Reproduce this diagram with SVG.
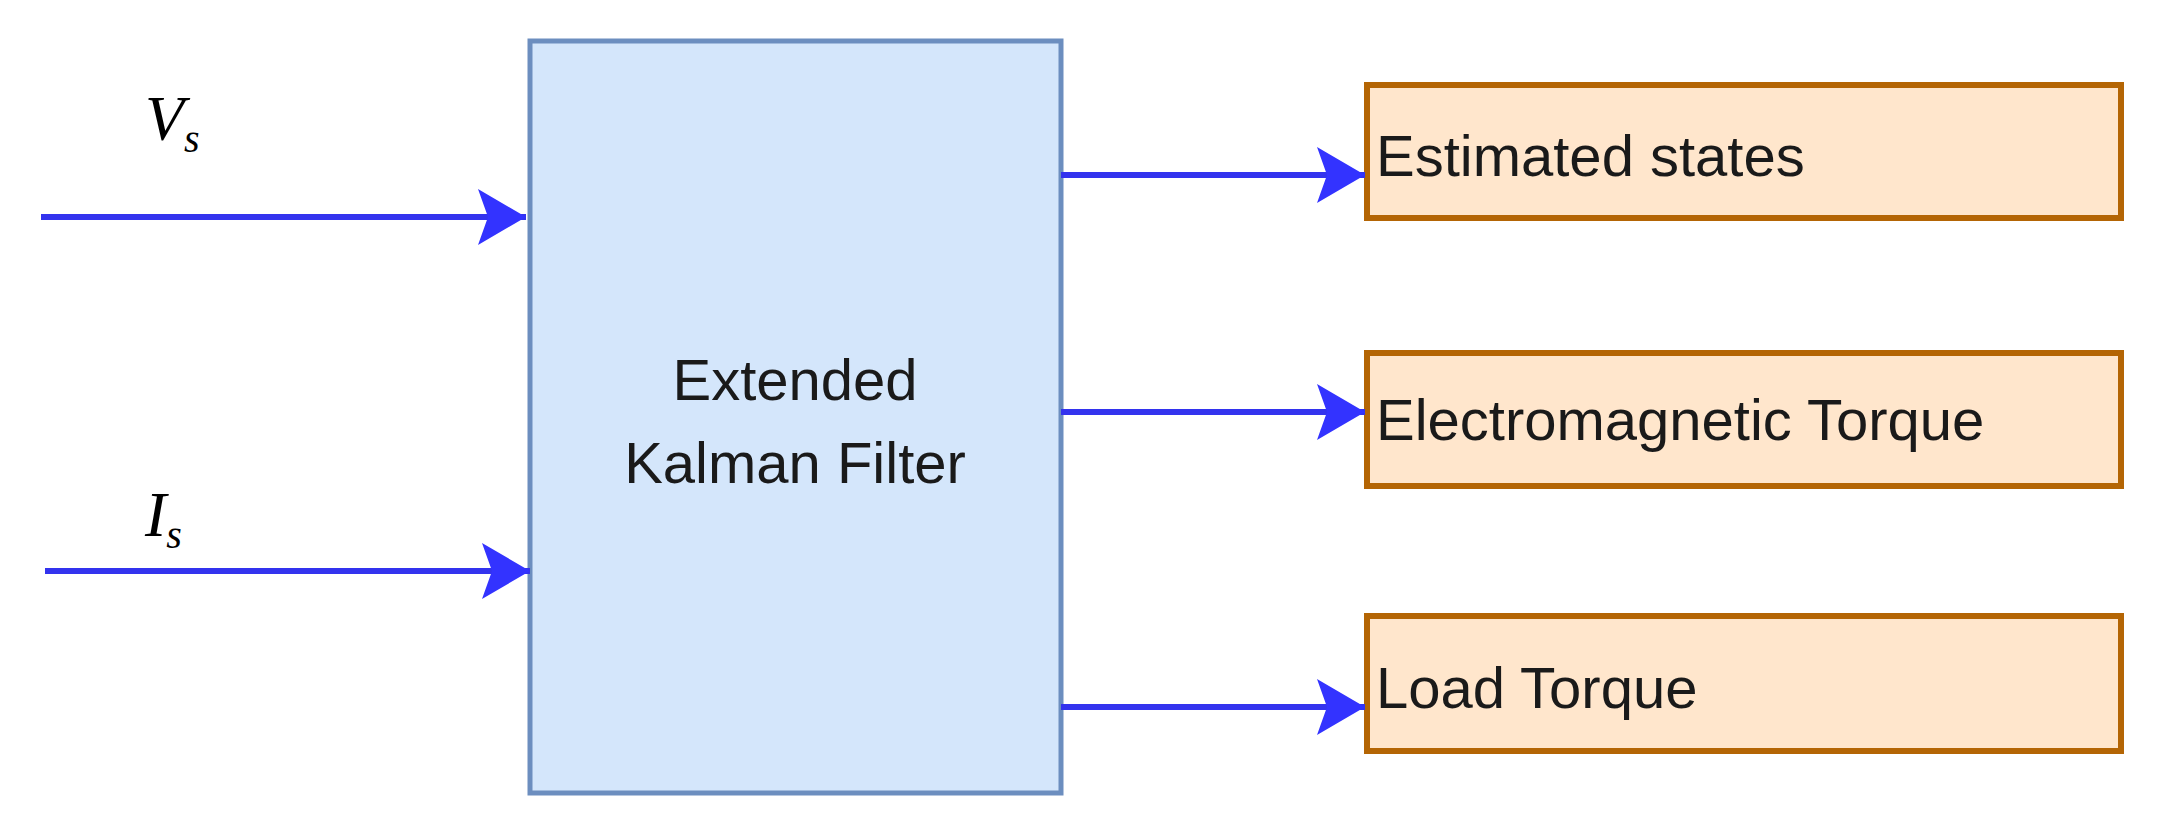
<svg xmlns="http://www.w3.org/2000/svg" width="2164" height="833" viewBox="0 0 2164 833">
<style>
.t{font-family:"Liberation Sans",Arial,sans-serif;font-size:58px;fill:#1a1a1a}
.m{font-family:"Liberation Serif","Times New Roman",serif;font-style:italic;fill:#000}
.out{fill:#ffe6cc;stroke:#b46504;stroke-width:6}
.c{stroke:#3333ee;stroke-width:6;fill:none;marker-end:url(#ah)}
</style>
<defs>
<marker id="ah" markerUnits="userSpaceOnUse" markerWidth="50" markerHeight="60" refX="48" refY="28" orient="auto">
<path d="M0,0 L48,28 L0,56 L10,28 Z" fill="#3333ff"/>
</marker>
</defs>
<rect width="2164" height="833" fill="#fff"/>
<g id="ekf">
<rect x="530" y="41" width="531" height="752" fill="#d4e6fb" stroke="#6c8ebf" stroke-width="5"/>
<text class="t" x="795" y="400" text-anchor="middle">Extended</text>
<text class="t" x="795" y="483" text-anchor="middle">Kalman Filter</text>
</g>
<g id="vs"><text class="m" x="145" y="140" font-size="64">V<tspan font-size="40" dy="12">s</tspan></text></g>
<g id="is"><text class="m" x="145" y="536" font-size="64">I<tspan font-size="40" dy="12">s</tspan></text></g>
<g id="est"><rect class="out" x="1367" y="85" width="754" height="133"/><text class="t" x="1376" y="176">Estimated states</text></g>
<g id="em"><rect class="out" x="1367" y="353" width="754" height="133"/><text class="t" x="1376" y="440">Electromagnetic Torque</text></g>
<g id="lt"><rect class="out" x="1367" y="616" width="754" height="135"/><text class="t" x="1376" y="708">Load Torque</text></g>
<g id="connectors">
<path class="c" d="M41,217 H526"/>
<path class="c" d="M45,571 H530"/>
<path class="c" d="M1061,175 H1365"/>
<path class="c" d="M1061,412 H1365"/>
<path class="c" d="M1061,707 H1365"/>
</g>
</svg>
